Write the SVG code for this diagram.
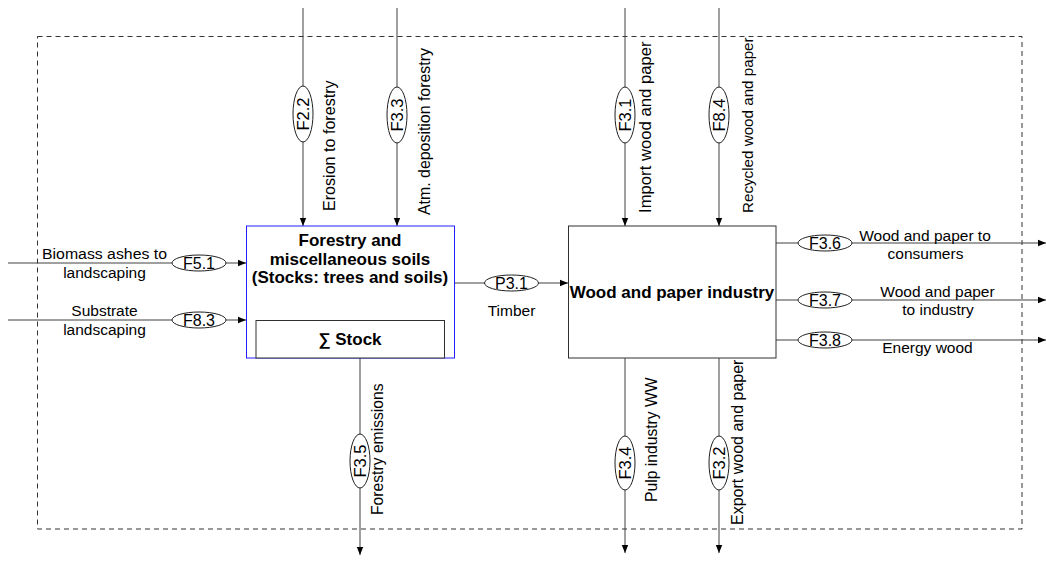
<svg xmlns="http://www.w3.org/2000/svg" width="1046" height="561" viewBox="0 0 1046 561">
  <style>
    .bg { fill: #ffffff; }
    .border { fill: none; stroke: #333333; stroke-width: 1; stroke-dasharray: 5 4; }
    .flow { fill: none; stroke: #404040; stroke-width: 1; marker-end: url(#arrow); }
    .tag { fill: #ffffff; stroke: #202020; stroke-width: 1; }
    .box { fill: #ffffff; stroke: #303030; stroke-width: 1; }
    .boxblue { fill: #ffffff; stroke: #2020ff; stroke-width: 1; }
    .lbl { font-family: "Liberation Sans", Arial, sans-serif; font-size: 15.5px; fill: #000000; }
    .htag { font-size: 16px; }
    .vtag { font-size: 16.5px; }
    .mid { text-anchor: middle; }
    .title { font-family: "Liberation Sans", Arial, sans-serif; font-size: 17px; font-weight: bold; fill: #000000; text-anchor: middle; }
  </style>
  <defs>
    <marker id="arrow" viewBox="0 0 8 8" refX="8" refY="4" markerWidth="8" markerHeight="8" markerUnits="userSpaceOnUse" orient="auto">
      <path d="M0,0.8 L8,4 L0,7.2 Z" fill="#000000"/>
    </marker>
  </defs>

  <rect class="bg" x="0" y="0" width="1046" height="561"/>

  <!-- system boundary -->
  <rect class="border" x="37.5" y="36.5" width="984.5" height="492.5"/>

  <!-- connectors -->
  <g id="connectors">
    <line class="flow" x1="303" y1="8" x2="303" y2="226"/>
    <line class="flow" x1="397" y1="8" x2="397" y2="226"/>
    <line class="flow" x1="625" y1="8" x2="625" y2="226"/>
    <line class="flow" x1="719" y1="8" x2="719" y2="226"/>
    <line class="flow" x1="8" y1="263" x2="246" y2="263"/>
    <line class="flow" x1="8" y1="320" x2="246" y2="320"/>
    <line class="flow" x1="454" y1="283" x2="568" y2="283"/>
    <line class="flow" x1="776" y1="243" x2="1046" y2="243"/>
    <line class="flow" x1="776" y1="300" x2="1046" y2="300"/>
    <line class="flow" x1="776" y1="340" x2="1046" y2="340"/>
    <line class="flow" x1="360" y1="358" x2="360" y2="555"/>
    <line class="flow" x1="625" y1="358" x2="625" y2="553"/>
    <line class="flow" x1="719" y1="358" x2="719" y2="553"/>
  </g>

  <!-- process: forestry -->
  <g id="forestry">
    <rect class="boxblue" x="246.5" y="226" width="208" height="132"/>
    <text class="title" x="350" y="246">Forestry and</text>
    <text class="title" x="350" y="265">miscellaneous soils</text>
    <text class="title" x="350" y="283">(Stocks: trees and soils)</text>
    <rect class="box" x="256" y="320.5" width="188.5" height="37.5"/>
    <text class="title" x="350" y="345">∑ Stock</text>
  </g>

  <!-- process: wood and paper industry -->
  <g id="wood-industry">
    <rect class="box" x="568.5" y="226" width="207.5" height="132"/>
    <text class="title" x="672" y="298">Wood and paper industry</text>
  </g>

  <!-- flow tags and labels -->
  <g id="f22">
    <ellipse class="tag" cx="303" cy="114" rx="10" ry="28"/>
    <text class="lbl vtag mid" transform="translate(309,114) rotate(-90)">F2.2</text>
    <text class="lbl" style="font-size:16.1px" transform="translate(335,211) rotate(-90)">Erosion to forestry</text>
  </g>
  <g id="f33">
    <ellipse class="tag" cx="397" cy="115" rx="10" ry="28"/>
    <text class="lbl vtag mid" transform="translate(403,115) rotate(-90)">F3.3</text>
    <text class="lbl" style="font-size:15.9px" transform="translate(430,215) rotate(-90)">Atm. deposition forestry</text>
  </g>
  <g id="f31">
    <ellipse class="tag" cx="625" cy="115" rx="10" ry="28"/>
    <text class="lbl vtag mid" transform="translate(631,115) rotate(-90)">F3.1</text>
    <text class="lbl" style="font-size:16.7px" transform="translate(650.5,213) rotate(-90)">Import wood and paper</text>
  </g>
  <g id="f84">
    <ellipse class="tag" cx="719" cy="115" rx="10" ry="28"/>
    <text class="lbl vtag mid" transform="translate(725,115) rotate(-90)">F8.4</text>
    <text class="lbl" style="font-size:15.2px" transform="translate(753,213) rotate(-90)">Recycled wood and paper</text>
  </g>
  <g id="f51">
    <ellipse class="tag" cx="199" cy="263" rx="27" ry="8"/>
    <text class="lbl htag mid" x="199" y="268.5">F5.1</text>
    <text class="lbl mid" x="104.5" y="259" textLength="125" lengthAdjust="spacingAndGlyphs">Biomass ashes to</text>
    <text class="lbl mid" x="104.5" y="278">landscaping</text>
  </g>
  <g id="f83">
    <ellipse class="tag" cx="199" cy="320" rx="27" ry="8"/>
    <text class="lbl htag mid" x="199" y="325.5">F8.3</text>
    <text class="lbl mid" x="104.5" y="316">Substrate</text>
    <text class="lbl mid" x="104.5" y="335">landscaping</text>
  </g>
  <g id="p31">
    <ellipse class="tag" cx="511.5" cy="283" rx="27" ry="8"/>
    <text class="lbl htag mid" x="511.5" y="288.5">P3.1</text>
    <text class="lbl mid" x="511.5" y="316">Timber</text>
  </g>
  <g id="f36">
    <ellipse class="tag" cx="825" cy="243" rx="27" ry="8"/>
    <text class="lbl htag mid" x="825" y="248.5">F3.6</text>
    <text class="lbl mid" x="925" y="241">Wood and paper to</text>
    <text class="lbl mid" x="925.5" y="259">consumers</text>
  </g>
  <g id="f37">
    <ellipse class="tag" cx="825" cy="300" rx="27" ry="8"/>
    <text class="lbl htag mid" x="825" y="305.5">F3.7</text>
    <text class="lbl mid" x="937.5" y="297">Wood and paper</text>
    <text class="lbl mid" x="938" y="315">to industry</text>
  </g>
  <g id="f38">
    <ellipse class="tag" cx="825" cy="340" rx="27" ry="8"/>
    <text class="lbl htag mid" x="825" y="345.5">F3.8</text>
    <text class="lbl mid" x="927.5" y="353">Energy wood</text>
  </g>
  <g id="f35">
    <ellipse class="tag" cx="360" cy="461" rx="10" ry="27"/>
    <text class="lbl vtag mid" transform="translate(366,461) rotate(-90)">F3.5</text>
    <text class="lbl" style="font-size:15.7px" transform="translate(383,515) rotate(-90)">Forestry emissions</text>
  </g>
  <g id="f34">
    <ellipse class="tag" cx="625" cy="463" rx="10" ry="27"/>
    <text class="lbl vtag mid" transform="translate(631,463) rotate(-90)">F3.4</text>
    <text class="lbl" style="font-size:15.7px" transform="translate(657,502) rotate(-90)">Pulp industry WW</text>
  </g>
  <g id="f32">
    <ellipse class="tag" cx="719" cy="463" rx="10" ry="27"/>
    <text class="lbl vtag mid" transform="translate(725,463) rotate(-90)">F3.2</text>
    <text class="lbl" style="font-size:16px" transform="translate(743,525) rotate(-90)">Export wood and paper</text>
  </g>
</svg>
